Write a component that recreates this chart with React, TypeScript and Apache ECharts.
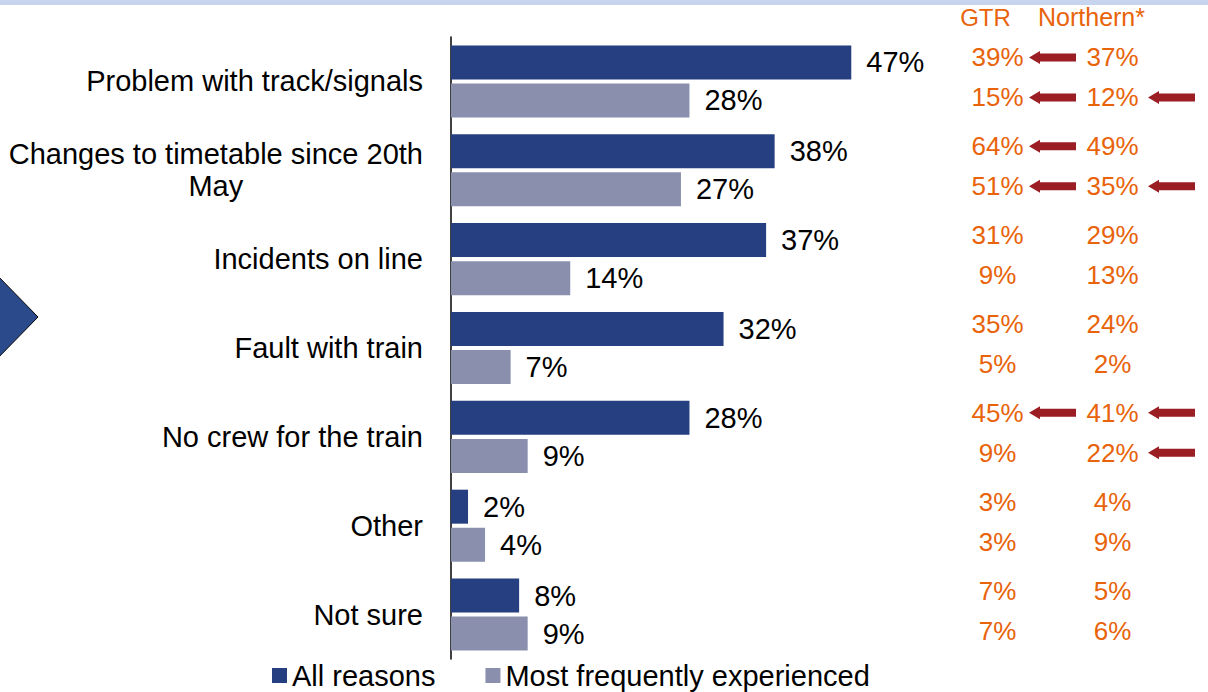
import React, { useEffect, useRef } from "react";
import * as echarts from "echarts";

const categories = [
  "Problem with track/signals",
  "Changes to timetable since 20th\nMay",
  "Incidents on line",
  "Fault with train",
  "No crew for the train",
  "Other",
  "Not sure",
];
const allReasons = [47, 38, 37, 32, 28, 2, 8];
const mostFrequent = [28, 27, 14, 7, 9, 4, 9];

const compareColumns = ["GTR", "Northern"];
const compareHeaders = ["GTR", "Northern*"];
const gtrAll = [39, 64, 31, 35, 45, 3, 7];
const gtrMost = [15, 51, 9, 5, 9, 3, 7];
const northernAll = [37, 49, 29, 24, 41, 4, 5];
const northernMost = [12, 35, 13, 2, 22, 9, 6];

// significance arrows (1 = arrow shown)
const arrowAfterGtrAll = [1, 1, 0, 0, 1, 0, 0];
const arrowAfterGtrMost = [1, 1, 0, 0, 0, 0, 0];
const arrowAfterNorthernAll = [0, 0, 0, 0, 1, 0, 0];
const arrowAfterNorthernMost = [1, 1, 0, 0, 1, 0, 0];

const FONT = "'Liberation Sans', Arial, sans-serif";
const DARK = "#263F80";
const LIGHT = "#8A8FAD";
const ORANGE = "#E8630A";
const ARROW = "#9B1E24";
const ARROW_PATH = "path://M0,6.5 L11,0 L11,2.5 L47,2.5 L47,10.5 L11,10.5 L11,13 Z";

const ALL_OFF = -24;
const MOST_OFF = 16;

export default function App() {
  const ref = useRef<HTMLDivElement>(null);
  useEffect(() => {
    if (!ref.current) return;
    const chart = echarts.init(ref.current, undefined, { renderer: "svg" });

    const textSeries = (col: string, values: number[], off: number) => ({
      type: "scatter",
      xAxisIndex: 1,
      yAxisIndex: 1,
      symbolSize: 1,
      itemStyle: { color: "rgba(0,0,0,0)", opacity: 1 },
      silent: true,
      data: values.map((v, i) => [col, categories[i], v]),
      label: {
        show: true,
        position: "inside",
        offset: [0, off],
        formatter: (p: any) => p.value[2] + "%",
        color: ORANGE,
        opacity: 1,
        fontSize: 26,
        fontFamily: FONT,
      },
    });
    const arrowSeries = (col: string, flags: number[], dx: number, off: number) => ({
      type: "scatter",
      xAxisIndex: 1,
      yAxisIndex: 1,
      symbol: ARROW_PATH,
      symbolSize: [47, 13],
      symbolOffset: [dx, off],
      itemStyle: { color: ARROW, opacity: 1 },
      silent: true,
      data: flags
        .map((f, i) => (f ? [col, categories[i]] : null))
        .filter((d) => d !== null),
    });

    chart.setOption({
      animation: false,
      backgroundColor: "#fff",
      textStyle: { fontFamily: FONT },
      graphic: [
        { type: "rect", shape: { x: 0, y: 0, width: 1208, height: 5 }, style: { fill: "#C6D4EE" } },
        {
          type: "polygon",
          shape: { points: [[-6, 272], [38, 317], [-6, 362]] },
          style: { fill: "#2B4A8B", stroke: "#000", lineWidth: 1 },
        },
      ],
      legend: {
        data: ["All reasons", "Most frequently experienced"],
        left: 267,
        top: 656,
        icon: "rect",
        itemWidth: 15,
        itemHeight: 15,
        itemGap: 50,
        textStyle: { fontSize: 29, color: "#000", fontFamily: FONT },
      },
      grid: [
        { left: 451, top: 37, width: 511, height: 622 },
        { left: 940, top: 37, width: 230, height: 622 },
      ],
      xAxis: [
        { type: "value", min: 0, max: 60, show: false, gridIndex: 0 },
        {
          type: "category",
          gridIndex: 1,
          position: "top",
          data: compareColumns,
          axisLine: { show: false },
          axisTick: { show: false },
          splitLine: { show: false },
          axisLabel: {
            interval: 0,
            hideOverlap: false,
            margin: 8,
            fontSize: 25,
            color: ORANGE,
            fontFamily: FONT,
            formatter: (v: string) => {
              const i = compareColumns.indexOf(v);
              return "{h" + i + "|" + compareHeaders[i] + "}";
            },
            rich: {
              h0: { padding: [0, 24, 0, 0], fontSize: 24, color: ORANGE, fontFamily: FONT },
              h1: { padding: [0, 42, 0, 0], fontSize: 25, color: ORANGE, fontFamily: FONT },
            },
          },
        },
      ],
      yAxis: [
        {
          type: "category",
          gridIndex: 0,
          inverse: true,
          data: categories,
          axisLine: { show: true, lineStyle: { color: "#000", width: 1.5 } },
          axisTick: { show: false },
          axisLabel: {
            interval: 0,
            margin: 28,
            fontSize: 29,
            color: "#000",
            fontFamily: FONT,
            lineHeight: 32,
            formatter: (v: string) => {
              const parts = v.split("\n");
              if (parts.length < 2) return v;
              return parts[0] + "\n{c|" + parts[1] + "}";
            },
            rich: {
              c: { align: "center", fontSize: 29, color: "#000", fontFamily: FONT, lineHeight: 32 },
            },
          },
        },
        {
          type: "category",
          gridIndex: 1,
          inverse: true,
          data: categories,
          show: false,
        },
      ],
      series: [
        {
          name: "All reasons",
          type: "bar",
          data: allReasons,
          barWidth: 34,
          barGap: "12%",
          itemStyle: { color: DARK },
          label: {
            show: true,
            position: "right",
            distance: 15,
            formatter: "{c}%",
            fontSize: 29,
            color: "#000",
            fontFamily: FONT,
          },
        },
        {
          name: "Most frequently experienced",
          type: "bar",
          data: mostFrequent,
          barWidth: 34,
          barGap: "12%",
          itemStyle: { color: LIGHT },
          label: {
            show: true,
            position: "right",
            distance: 15,
            formatter: "{c}%",
            fontSize: 29,
            color: "#000",
            fontFamily: FONT,
          },
        },
        textSeries("GTR", gtrAll, ALL_OFF),
        textSeries("GTR", gtrMost, MOST_OFF),
        textSeries("Northern", northernAll, ALL_OFF),
        textSeries("Northern", northernMost, MOST_OFF),
        arrowSeries("GTR", arrowAfterGtrAll, 55, ALL_OFF),
        arrowSeries("GTR", arrowAfterGtrMost, 55, MOST_OFF),
        arrowSeries("Northern", arrowAfterNorthernAll, 59, ALL_OFF),
        arrowSeries("Northern", arrowAfterNorthernMost, 59, MOST_OFF),
      ],
    });
    return () => chart.dispose();
  }, []);
  return (
    <div
      ref={ref}
      style={{ position: "fixed", left: 0, top: 0, width: 1208, height: 692 }}
    />
  );
}
